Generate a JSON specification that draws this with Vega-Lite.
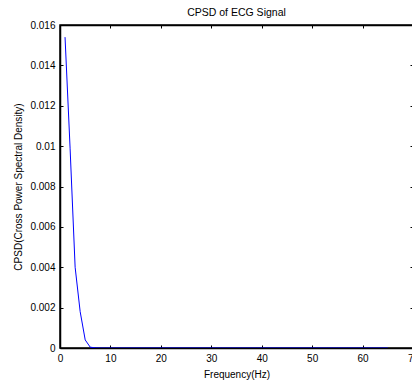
{
  "$schema": "https://vega.github.io/schema/vega-lite/v6.json",
  "autosize": "none",
  "padding": {"left": 60, "top": 25, "right": 0, "bottom": 38},
  "width": 353,
  "height": 323,
  "background": "white",
  "title": {"text": "CPSD of ECG Signal", "font": "Liberation Sans", "fontSize": 10.5, "fontWeight": "normal", "color": "#000", "offset": 2, "anchor": "middle"},
  "config": {
    "view": {"stroke": "#000", "strokeWidth": 1.5},
    "axis": {"labelFont": "Liberation Sans", "titleFont": "Liberation Sans", "labelFontSize": 10, "titleFontSize": 10, "titleFontWeight": "normal", "labelColor": "#000", "titleColor": "#000", "domainColor": "#000", "tickColor": "#000", "domainWidth": 1.5, "tickWidth": 1, "grid": false}
  },
  "data": {"values": [
    {"f": 1, "p": 0.0154}, {"f": 2, "p": 0.0099}, {"f": 3, "p": 0.0040}, {"f": 4, "p": 0.0018},
    {"f": 5, "p": 0.0004}, {"f": 6, "p": 0.00004}, {"f": 7, "p": 0.00001}, {"f": 8, "p": 0},
    {"f": 9, "p": 0}, {"f": 10, "p": 0}, {"f": 11, "p": 0}, {"f": 12, "p": 0}, {"f": 13, "p": 0},
    {"f": 14, "p": 0}, {"f": 15, "p": 0}, {"f": 16, "p": 0}, {"f": 17, "p": 0}, {"f": 18, "p": 0},
    {"f": 19, "p": 0}, {"f": 20, "p": 0}, {"f": 21, "p": 0}, {"f": 22, "p": 0}, {"f": 23, "p": 0},
    {"f": 24, "p": 0}, {"f": 25, "p": 0}, {"f": 26, "p": 0}, {"f": 27, "p": 0}, {"f": 28, "p": 0},
    {"f": 29, "p": 0}, {"f": 30, "p": 0}, {"f": 31, "p": 0}, {"f": 32, "p": 0}, {"f": 33, "p": 0},
    {"f": 34, "p": 0}, {"f": 35, "p": 0}, {"f": 36, "p": 0}, {"f": 37, "p": 0}, {"f": 38, "p": 0},
    {"f": 39, "p": 0}, {"f": 40, "p": 0}, {"f": 41, "p": 0}, {"f": 42, "p": 0}, {"f": 43, "p": 0},
    {"f": 44, "p": 0}, {"f": 45, "p": 0}, {"f": 46, "p": 0}, {"f": 47, "p": 0}, {"f": 48, "p": 0},
    {"f": 49, "p": 0}, {"f": 50, "p": 0}, {"f": 51, "p": 0}, {"f": 52, "p": 0}, {"f": 53, "p": 0},
    {"f": 54, "p": 0}, {"f": 55, "p": 0}, {"f": 56, "p": 0}, {"f": 57, "p": 0}, {"f": 58, "p": 0},
    {"f": 59, "p": 0}, {"f": 60, "p": 0}, {"f": 61, "p": 0}, {"f": 62, "p": 0}, {"f": 63, "p": 0},
    {"f": 64, "p": 0}, {"f": 65, "p": 0}
  ]},
  "layer": [
    {
      "mark": {"type": "line", "color": "#0000ff", "strokeWidth": 1, "clip": true},
      "encoding": {
        "x": {"field": "f", "type": "quantitative", "scale": {"domain": [0, 70], "nice": false, "zero": false},
              "axis": {"orient": "bottom", "title": "Frequency(Hz)", "values": [0, 10, 20, 30, 40, 50, 60, 70], "tickSize": -3, "labelPadding": 8, "titlePadding": 6, "labelFlush": false, "labelOverlap": false}},
        "y": {"field": "p", "type": "quantitative", "scale": {"domain": [0, 0.016], "nice": false},
              "axis": {"orient": "left", "title": "CPSD(Cross Power Spectral Density)", "values": [0, 0.002, 0.004, 0.006, 0.008, 0.01, 0.012, 0.014, 0.016], "format": ".3~f", "tickSize": -3, "labelPadding": 8, "titlePadding": 6, "labelFlush": false, "labelOverlap": false}}
      }
    },
    {
      "mark": {"type": "line", "opacity": 0},
      "encoding": {
        "x": {"field": "f", "type": "quantitative",
              "axis": {"orient": "top", "title": null, "labels": false, "values": [0, 10, 20, 30, 40, 50, 60, 70], "tickSize": -3}},
        "y": {"field": "p", "type": "quantitative",
              "axis": {"orient": "right", "title": null, "labels": false, "values": [0, 0.002, 0.004, 0.006, 0.008, 0.01, 0.012, 0.014, 0.016], "tickSize": -3}}
      }
    }
  ],
  "resolve": {"axis": {"x": "independent", "y": "independent"}}
}
